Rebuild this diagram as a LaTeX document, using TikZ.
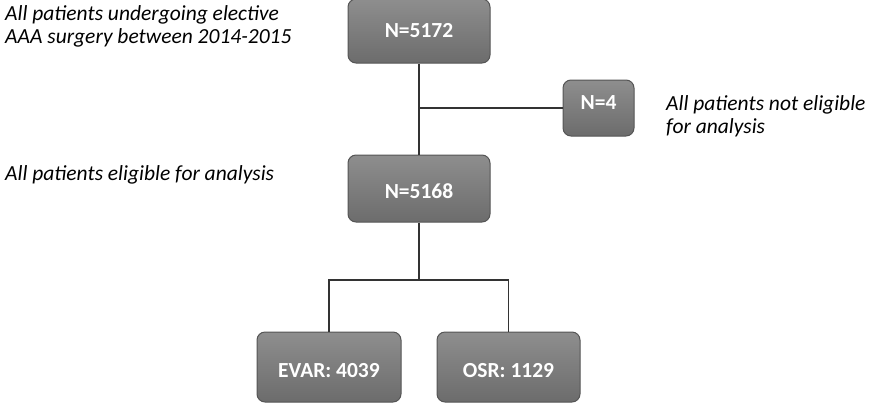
\documentclass[tikz,border=0pt]{standalone}
\usepackage{fontspec}
\setmainfont{Carlito}
\definecolor{boxtop}{HTML}{8E8E8E}
\definecolor{boxbot}{HTML}{6C6C6C}
\definecolor{boxline}{HTML}{555555}
\definecolor{conn}{HTML}{333333}
\tikzset{
  box/.style={draw=boxline, line width=1pt, rounded corners=8pt, top color=boxtop, bottom color=boxbot,
    text=white, font=\fontsize{21.5}{24}\selectfont\bfseries, inner sep=0pt},
  lowtext/.style={text height=24pt, text depth=4pt},
  note/.style={anchor=west, align=left, font=\fontsize{21.5}{23}\selectfont\itshape, inner sep=0pt},
  conn/.style={draw=conn, line width=1.5pt}
}
\begin{document}
\begin{tikzpicture}[x=1pt,y=1pt]
\useasboundingbox (0,0) rectangle (869,-402);
\node[box, minimum width=142pt, minimum height=64pt] (a) at (419,-31) {N=5172};
\node[box, minimum width=71pt, minimum height=56pt, text depth=10pt] (b) at (598.5,-108) {N=4};
\node[box, lowtext, minimum width=142pt, minimum height=67pt] (c) at (419,-188.5) {N=5168};
\node[box, lowtext, minimum width=144pt, minimum height=70pt] (d) at (329,-367) {EVAR: 4039};
\node[box, lowtext, minimum width=143pt, minimum height=70pt] (e) at (508.5,-367) {OSR: 1129};
\node[note] (t1) at (5,-26) {All patients undergoing elective\\AAA surgery between 2014-2015};
\node[note] (t2) at (666,-116) {All patients not eligible\\for analysis};
\node[note] (t3) at (5,-175) {All patients eligible for analysis};
\coordinate (j1) at (a.south |- b.west);
\coordinate (j2) at (419,-280);
\draw[conn] (a.south) -- (c.north);
\draw[conn] (j1) -- (b.west);
\draw[conn] (c.south) -- (j2);
\draw[conn] (d.north) -- (d.north |- j2) -- (e.north |- j2) -- (e.north);
\end{tikzpicture}
\end{document}
